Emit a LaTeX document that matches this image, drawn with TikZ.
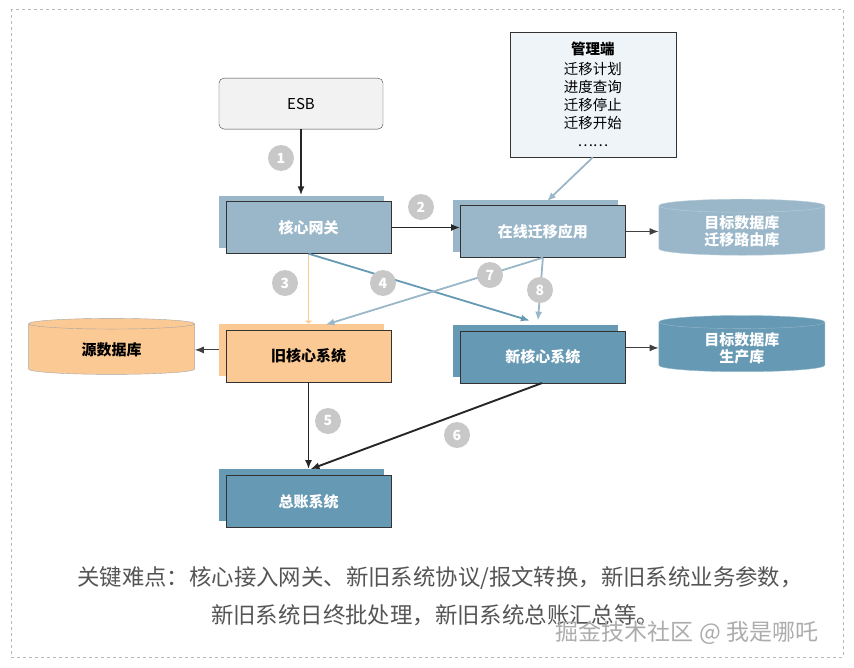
\documentclass[tikz,border=0pt]{standalone}
\usepackage{fontspec}
\setmainfont{Noto Sans CJK SC}
\usepackage{xcolor}
\usepackage{tikz}
\usetikzlibrary{arrows.meta,positioning,shapes.geometric,shadows}
\definecolor{gwBlue}{HTML}{9AB7C9}
\definecolor{coreBlue}{HTML}{6699B3}
\definecolor{oldOrange}{HTML}{FBC993}
\definecolor{mgmtFill}{HTML}{EEF4F8}
\definecolor{esbFill}{HTML}{F2F2F2}
\definecolor{badgeGray}{HTML}{C8C8C8}
\definecolor{noteGray}{HTML}{555555}
\tikzset{
    sysBox/.style={
        draw=black!80,
        align=center,
        minimum width=165pt,
        minimum height=52pt,
        font=\bfseries\fontsize{15}{17}\selectfont,
        text=white
    },
    sysShadow/.style={
        general shadow={fill=#1, shadow xshift=-7pt, shadow yshift=6pt}
    },
    dbCyl/.style={
        cylinder,
        shape border rotate=90,
        aspect=0.16,
        draw=#1!70,
        fill=#1,
        minimum width=166pt,
        minimum height=56pt,
        align=center,
        font=\bfseries\fontsize{15}{17}\selectfont,
        text=white
    },
    stepBadge/.style={
        circle,
        fill=badgeGray,
        inner sep=0pt,
        minimum size=26pt,
        text=white,
        font=\bfseries\fontsize{14}{14}\selectfont
    },
    mainArrow/.style={
        -{Latex[length=9pt,width=7pt]},
        line width=1.9pt,
        black!85
    },
    lightArrow/.style={
        -{Latex[length=9pt,width=7pt]},
        line width=1.8pt,
        #1
    },
    thinArrow/.style={
        -{Latex[length=9pt,width=7pt]},
        line width=1pt,
        black!75
    }
}
\begin{document}
\begin{tikzpicture}[x=1pt,y=-1pt]
    \useasboundingbox (0,0) rectangle (854,667);
    \draw[gray!55,dashed,line width=0.9pt] (11,9) rectangle (843,657);

    % systems
    \node[sysBox,fill=gwBlue,sysShadow=gwBlue] (gw) at (308.5,227.5) {核心网关};
    \node[sysBox,fill=gwBlue,sysShadow=gwBlue,right=69pt of gw,yshift=-4pt] (app) {在线迁移应用};
    \node[sysBox,fill=oldOrange,sysShadow=oldOrange,text=black,below=76pt of gw] (old) {旧核心系统};
    \node[sysBox,fill=coreBlue,sysShadow=coreBlue,below=73pt of app] (new) {新核心系统};
    \node[sysBox,fill=coreBlue,sysShadow=coreBlue,below=93pt of old] (ledger) {总账系统};

    \node[draw=black!75,fill=esbFill,rounded corners=5pt,minimum width=164pt,minimum height=51pt,
          font=\fontsize{15}{17}\selectfont,above=72pt of gw,xshift=-7.5pt] (esb) {ESB};
    \node[draw=black!80,fill=mgmtFill,minimum width=166pt,minimum height=125pt,align=center,
          font=\fontsize{14.5}{18}\selectfont,above=48pt of app,xshift=50pt] (mgmt)
          {\textbf{管理端}\\[2pt]迁移计划\\进度查询\\迁移停止\\迁移开始\\……};

    % databases
    \node[dbCyl=gwBlue,right=33pt of app] (routeDb) {目标数据库\\迁移路由库};
    \node[dbCyl=coreBlue,right=33pt of new,yshift=9pt] (prodDb) {目标数据库\\生产库};
    \node[dbCyl=oldOrange,draw=gray!70,text=black,left=31pt of old,yshift=6pt] (srcDb) {源数据库};

    \draw[mainArrow] (esb.south) -- ([xshift=-7.5pt,yshift=6pt]gw.north);
    \draw[mainArrow] (gw.east) -- (gw.east -| app.west);
    \draw[lightArrow=oldOrange,-{Latex[length=3pt,width=8pt]}] (gw.south) -- ([yshift=6pt]old.north);
    \draw[lightArrow=coreBlue] (gw.south) -- ([xshift=-13pt,yshift=10pt]new.north);
    \draw[lightArrow=gwBlue] (app.south) -- ([xshift=17pt,yshift=5pt]old.north);
    \draw[lightArrow=gwBlue] (app.south) -- ([xshift=-5pt,yshift=10pt]new.north);
    \draw[lightArrow=gwBlue] (mgmt.south) -- ([xshift=4pt,yshift=4pt]app.north);
    \draw[thinArrow] (app.east) -- (app.east -| routeDb.west);
    \draw[thinArrow] ([xshift=-7pt]old.west |- srcDb.east) -- (srcDb.east);
    \draw[thinArrow] (new.east |- prodDb.west) -- (prodDb.west);
    \draw[mainArrow] (old.south) -- ([yshift=6pt]ledger.north);
    \draw[mainArrow] ([xshift=-1pt]new.south) -- ([xshift=2pt,yshift=6pt]ledger.north);

    % steps
    \node[stepBadge] (b1) at (281,158) {1};
    \node[stepBadge] (b2) at (421,207) {2};
    \node[stepBadge] (b3) at (285,283) {3};
    \node[stepBadge] (b4) at (383,283) {4};
    \node[stepBadge] (b5) at (328,421) {5};
    \node[stepBadge] (b6) at (457,435) {6};
    \node[stepBadge] (b7) at (490,275) {7};
    \node[stepBadge] (b8) at (540,290) {8};

    % notes
    \node[text=noteGray,font=\fontsize{22.4}{26}\selectfont] (note1) at (440,578)
        {关键难点：核心接入网关、新旧系统协议/报文转换，新旧系统业务参数，};
    \node[text=noteGray,font=\fontsize{22.4}{26}\selectfont,below=8pt of note1,xshift=-5pt] (note2)
        {新旧系统日终批处理，新旧系统总账汇总等。};
    \node[text=gray!65,font=\fontsize{23}{26}\selectfont] (mark) at (687,633) {掘金技术社区 @ 我是哪吒};
\end{tikzpicture}
\end{document}
